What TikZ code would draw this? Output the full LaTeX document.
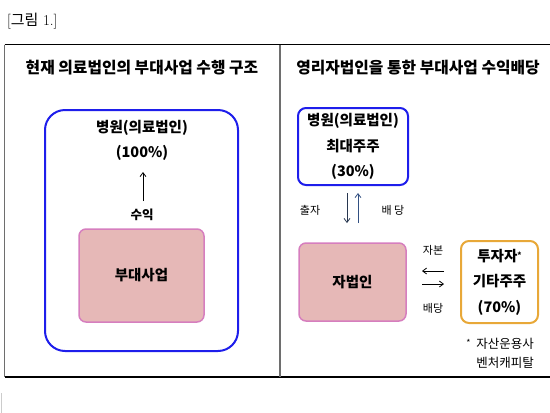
\documentclass[tikz,border=0pt]{standalone}
\usepackage{fontspec}
\newfontfamily\kr{Noto Sans CJK KR}
\usetikzlibrary{arrows.meta}
\definecolor{bxblue}{RGB}{30,30,235}
\definecolor{pinkfill}{RGB}{230,184,183}
\definecolor{pinkline}{RGB}{214,126,190}
\definecolor{orangeline}{RGB}{232,168,56}
\definecolor{framegray}{RGB}{110,110,110}
\definecolor{arrdark}{RGB}{40,55,80}
\definecolor{arrup}{RGB}{50,80,130}
\tikzset{
  titletext/.style={font=\kr\bfseries\fontsize{15.8}{18}\selectfont, inner sep=0pt},
  boxtext/.style={font=\kr\bfseries\fontsize{14.5}{25.5}\selectfont, inner sep=0pt, align=center},
  smalltext/.style={font=\kr\fontsize{11}{12}\selectfont, inner sep=0pt},
  notetext/.style={font=\kr\fontsize{12.5}{14}\selectfont, inner sep=0pt},
  bluebox/.style={draw=bxblue, line width=2pt, rounded corners=8pt},
  pinkbox/.style={draw=pinkline, fill=pinkfill, line width=1.5pt, rounded corners=7pt},
  orangebox/.style={draw=orangeline, line width=2pt, rounded corners=8pt},
  arr/.style={line width=0.8pt, -{Straight Barb[length=4pt,width=6pt]}},
}
\begin{document}
\begin{tikzpicture}[x=1pt,y=-1pt]
\useasboundingbox (0,0) rectangle (550,413);
% caption
\node[anchor=west, inner sep=0pt, font=\fontsize{15}{17}\selectfont] (cap) at (7,21) {[{\kr 그림} 1.]};
% frame
\draw[line width=1.3pt] (4.5,44.5) -- (550,44.5);
\draw[line width=1.3pt] (4.5,377) -- (550,377);
\draw[framegray, line width=1.3pt] (4.5,44.5) -- (4.5,377);
\draw[framegray, line width=1.3pt] (280,44.5) -- (280,377);
\draw[gray!40, line width=0.8pt] (1,393) -- (1,413);
% titles
\node[titletext] (tl) at (142,68) {현재 의료법인의 부대사업 수행 구조};
\node[titletext] (tr) at (418,68) {영리자법인을 통한 부대사업 수익배당};
% left panel
\draw[bxblue, line width=2pt, rounded corners=20pt] (45,110) rectangle (238,351);
\node[boxtext] (hospL) at (142,128) {병원(의료법인)};
\node[boxtext] (pctL) at (142,153) {(100\%)};
\node[font=\kr\bfseries\fontsize{12.5}{14}\selectfont, inner sep=0pt] (suik) at (142,215) {수익};
\node[pinkbox, minimum width=125pt, minimum height=93pt, boxtext] (bud) at (141.5,275.5) {부대사업};
\coordinate (lA) at (143,201);
\coordinate (lB) at (143,172);
\draw[arr] (lA) -- (lB);
% right panel
\node[bluebox, minimum width=110pt, minimum height=77pt, boxtext] (hospR) at (353,146.5) {병원(의료법인)\\최대주주\\(30\%)};
\coordinate (dA) at (347,193);
\coordinate (dB) at (347,223);
\coordinate (uA) at (358,223);
\coordinate (uB) at (358,193);
\draw[arr, arrdark] (dA) -- (dB);
\draw[arr, arrup] (uA) -- (uB);
\node[smalltext] (chul) at (310,210) {출자};
\node[smalltext] (baedang1) at (393,210) {배 당};
\node[pinkbox, minimum width=107pt, minimum height=78pt, boxtext] (ja) at (352.5,282) {자법인};
\node[orangebox, minimum width=77pt, minimum height=82pt, boxtext] (inv) at (499.5,282) {투자자\raisebox{3pt}{\fontsize{8}{8}\selectfont *}\\기타주주\\(70\%)};
\node[smalltext] (jabon) at (433,250) {자본};
\node[smalltext] (baedang2) at (433,308) {배당};
\coordinate (hA) at (444,271);
\coordinate (hB) at (422,271);
\coordinate (hC) at (422,284);
\coordinate (hD) at (444,284);
\draw[arr] (hA) -- (hB);
\draw[arr] (hC) -- (hD);
\node[notetext, anchor=east] (n1) at (534,344) {\raisebox{2pt}{\fontsize{9}{9}\selectfont *}\ \ 자산운용사};
\node[notetext, anchor=east] (n2) at (534,363) {벤처캐피탈};
\end{tikzpicture}
\end{document}
